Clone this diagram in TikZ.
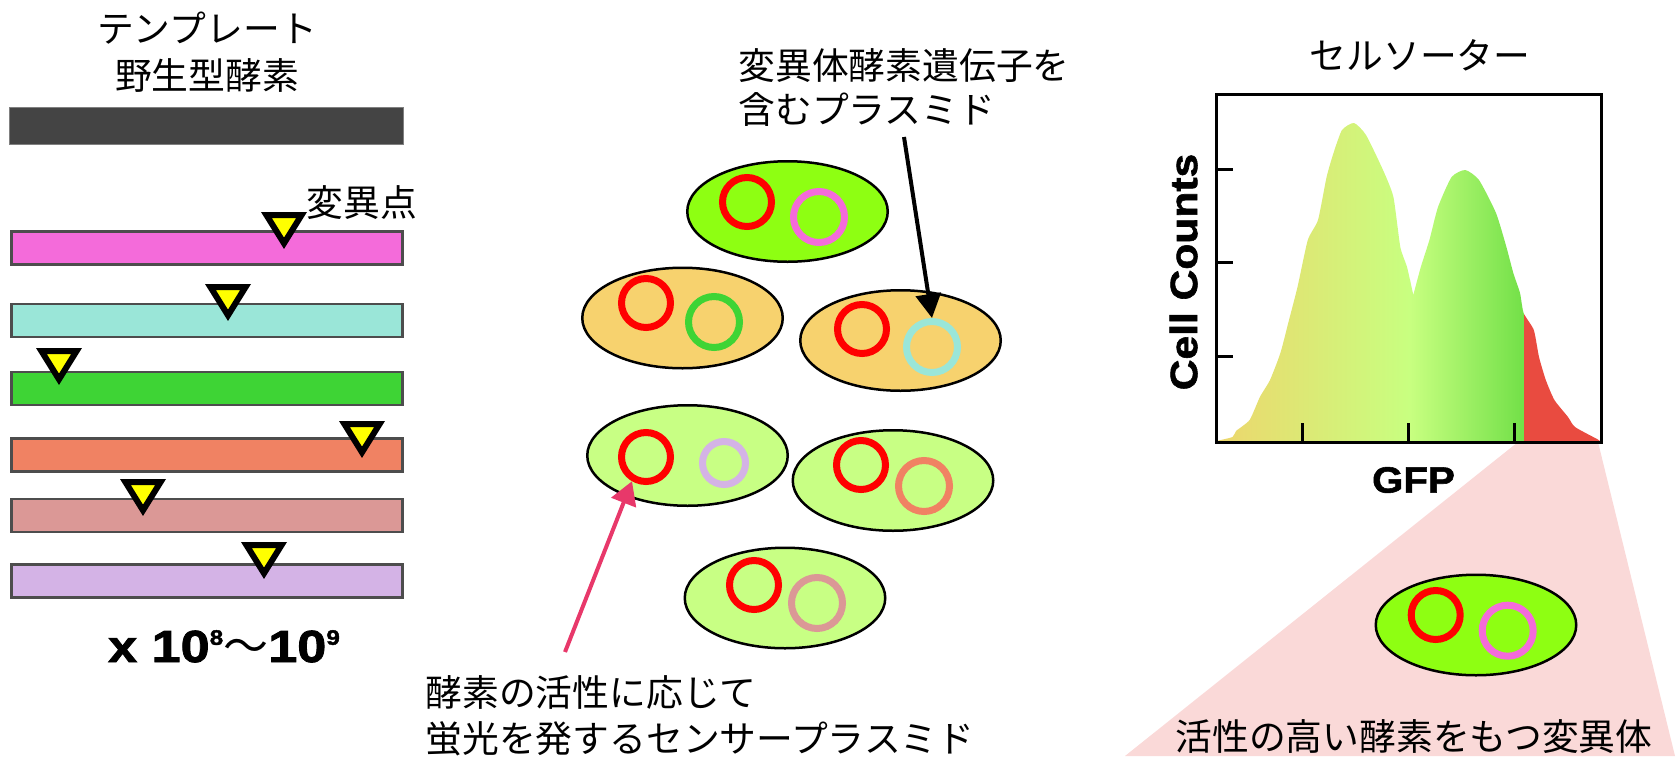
\documentclass[tikz,border=0pt]{standalone}
\usepackage{fontspec}
\setmainfont{Noto Sans CJK JP}
\newfontfamily\heavycount{Liberation Sans}[BoldFeatures={FakeBold=1.8}, FakeStretch=1.16]
\newfontfamily\heavywide{Liberation Sans}[BoldFeatures={FakeBold=1.6}, FakeStretch=1.12]
\newfontfamily\heavymid{Liberation Sans}[BoldFeatures={FakeBold=1.5}, FakeStretch=1.1]
\usetikzlibrary{shapes.geometric, arrows.meta}

\definecolor{darkbar}{HTML}{444444}
\definecolor{barline}{HTML}{4D4D4D}
\definecolor{mpink}{HTML}{F46BDA}
\definecolor{mcyan}{HTML}{9AE6D8}
\definecolor{mgreen}{HTML}{3ED435}
\definecolor{morange}{HTML}{F08263}
\definecolor{mrose}{HTML}{DB9896}
\definecolor{mlav}{HTML}{D4B3E6}
\definecolor{mark}{HTML}{FFFF00}
\definecolor{cellbright}{HTML}{8EFF12}
\definecolor{cellorange}{HTML}{F7D26E}
\definecolor{celllight}{HTML}{C8FF84}
\definecolor{ringred}{HTML}{FF0000}
\definecolor{arrowpink}{HTML}{E8386A}
\definecolor{histyellow}{HTML}{EDD66C}
\definecolor{histlight}{HTML}{C8FF80}
\definecolor{histgreen}{HTML}{72E048}
\definecolor{histred}{HTML}{E94B40}
\definecolor{conepink}{HTML}{FAD9D8}

\tikzset{
  jp/.style={font=\fontsize{18.4pt}{23pt}\selectfont, inner sep=0pt},
  genebar/.style={rectangle, draw=barline, line width=1.4pt, fill=#1,
    minimum width=195.5pt, minimum height=16.5pt, inner sep=0pt},
  mutmark/.pic={\draw[line width=3pt, line join=miter, fill=mark]
    (-17.6,3) -- (17.6,3) -- (0,31.3) -- cycle;},
  cell/.style={ellipse, draw=black, line width=1.25pt, fill=#1,
    minimum width=100.25pt, minimum height=50.25pt, inner sep=0pt},
  ring/.style={circle, draw=#1, line width=3.5pt, minimum size=25.5pt, inner sep=0pt},
  redring/.style={ring=ringred, minimum size=24.5pt},
  smallring/.style={ring=#1, minimum size=21.5pt},
  pointer/.style={line width=2pt, -{Triangle[length=12pt, width=12.5pt]}},
  axisline/.style={line width=1.5pt},
}
\newcommand{\expo}[1]{\raisebox{8.6pt}{\fontsize{10.5pt}{10.5pt}\selectfont #1}}

\begin{document}
\begin{tikzpicture}[x=0.5pt, y=-0.5pt]
\useasboundingbox (0,0) rectangle (1677,756);

% ---------- left: template and mutant genes ----------
\node[jp, align=center, anchor=north, font=\fontsize{18.4pt}{23.5pt}\selectfont] (tmpl) at (207,12) {テンプレート\\野生型酵素};
\node[rectangle, fill=darkbar, draw=gray, line width=0.5pt, minimum width=197pt,
  minimum height=18.5pt, inner sep=0pt] (wt) at (206,125.5) {};

\node[genebar=mpink] (g1) at (207,248) {};
\node[genebar=mcyan] (g2) at (207,320.5) {};
\node[genebar=mgreen] (g3) at (207,388.5) {};
\node[genebar=morange] (g4) at (207,455) {};
\node[genebar=mrose] (g5) at (207,515.5) {};
\node[genebar=mlav] (g6) at (207,581) {};

\pic at (284,212) {mutmark};
\pic at (228,284) {mutmark};
\pic at (59,348) {mutmark};
\pic at (362,421) {mutmark};
\pic at (143,479) {mutmark};
\pic at (264,542) {mutmark};

\node[jp] (mutlabel) at (362,203) {変異点};

\node[inner sep=0pt, anchor=base, font=\heavycount\bfseries\fontsize{22.5pt}{22.5pt}\selectfont] (count) at (224,662)
  {x 10\expo{8}{\rmfamily\mdseries 〜}10\expo{9}};

% ---------- middle: cells with plasmids ----------
\node[cell=cellbright] (c1) at (787.5,211.5) {};
\node[redring] (r1) at (747,202) {};
\node[ring=mpink] (p1) at (819,217) {};

\node[cell=cellorange] (c2) at (682.5,318) {};
\node[redring] (r2) at (646,303) {};
\node[ring=mgreen] (p2) at (714,322) {};

\node[cell=cellorange] (c3) at (900.5,340.5) {};
\node[redring] (r3) at (862,329) {};
\node[ring=mcyan] (p3) at (932,347) {};

\node[cell=celllight] (c4) at (687.5,455.5) {};
\node[redring] (r4) at (646,457) {};
\node[smallring=mlav] (p4) at (724,463) {};

\node[cell=celllight] (c5) at (893,480.5) {};
\node[redring] (r5) at (861,465) {};
\node[ring=morange] (p5) at (924,486) {};

\node[cell=celllight] (c6) at (785,598) {};
\node[redring] (r6) at (754,585) {};
\node[ring=mrose] (p6) at (817,603) {};

\node[jp, align=left, anchor=north west, font=\fontsize{18.4pt}{22pt}\selectfont] (plasmidlabel) at (738,48)
  {変異体酵素遺伝子を\\含むプラスミド};
\coordinate (pa) at (904,137);
\draw[pointer] (pa) -- (p3.north);

\node[jp, align=left, anchor=north west] (sensorlabel) at (425,675)
  {酵素の活性に応じて\\蛍光を発するセンサープラスミド};
\coordinate (sa) at (565,652);
\draw[pointer, draw=arrowpink, fill=arrowpink, -{Triangle[length=11.5pt, width=13pt]}] (sa) -- (r4.240);

% ---------- right: cell sorter histogram ----------
\fill[conepink] (1518,442) -- (1598,442) -- (1675,756) -- (1125,756) -- cycle;

\node[jp] (sorter) at (1420,55) {セルソーター};

\begin{scope}
  \clip plot[smooth, tension=0.35] coordinates {(1216,441) (1232.5,437) (1236,431)
      (1249.6,420) (1259.9,397) (1270,380) (1280.4,353) (1289,320) (1297.5,287)
      (1307.8,240) (1318,220) (1326.6,177) (1333.5,153) (1342,130) (1354,123)
      (1366,135) (1383,170) (1393.4,197) (1400.3,247) (1407,267) (1413.3,295)}
    -- plot[smooth, tension=0.35] coordinates {(1413.3,295) (1420.8,267) (1429.4,240)
      (1438,207) (1451.6,177) (1465.3,170) (1479,180) (1496,213) (1506.4,247)
      (1513.3,273) (1520,293) (1523.6,313) (1533.8,330) (1539,357) (1545.8,380)
      (1554.4,400) (1568,417) (1575,427) (1597,439) (1600,441)}
    -- (1216,442) -- cycle;
  \shade[left color=histyellow, right color=histlight] (1216,100) rectangle (1410,445);
  \shade[left color=histlight, right color=histgreen] (1410,100) rectangle (1524,445);
  \fill[histred] (1524,100) rectangle (1602,445);
\end{scope}

\draw[axisline] (1216,94) rectangle (1601,442);
\foreach \yy in {169,262,356} \draw[axisline] (1216,\yy) -- (1233,\yy);
\foreach \xx in {1302,1408,1514} \draw[axisline] (\xx,442) -- (\xx,423);

\node[inner sep=0pt, rotate=90, font=\heavywide\bfseries\fontsize{19pt}{19pt}\selectfont] (ylab) at (1183.5,272) {Cell Counts};
\node[inner sep=0pt, font=\heavymid\bfseries\fontsize{18.3pt}{18.3pt}\selectfont] (xlab) at (1413.5,480) {GFP};

\node[cell=cellbright] (c7) at (1476,625) {};
\node[redring] (r7) at (1435.7,615) {};
\node[ring=mpink] (p7) at (1507.7,630.7) {};

\node[jp] (hitlabel) at (1414,737) {活性の高い酵素をもつ変異体};

\end{tikzpicture}
\end{document}
